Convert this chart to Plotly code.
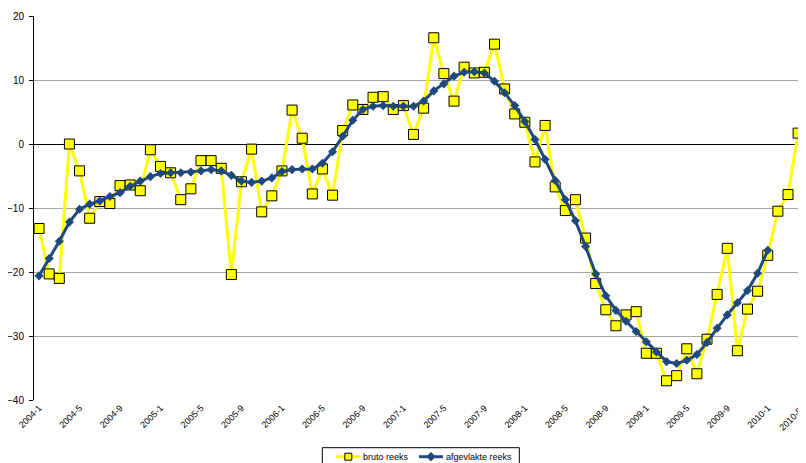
import plotly.graph_objects as go

months = [f"{y}-{m}" for y in range(2004, 2011) for m in range(1, 13)][:77]

bruto = [-13.2, -20.3, -21.0, 0.0, -4.2, -11.6, -9.0, -9.3, -6.5, -6.4, -7.3, -0.9,
         -3.5, -4.5, -8.7, -7.0, -2.6, -2.6, -3.8, -20.4, -5.9, -0.8, -10.6, -8.1,
         -4.2, 5.3, 0.9, -7.8, -3.9, -8.0, 2.1, 6.1, 5.4, 7.3, 7.4, 5.4,
         6.0, 1.5, 5.6, 16.6, 11.0, 6.7, 12.0, 11.1, 11.2, 15.6, 8.6, 4.7,
         3.4, -2.8, 2.9, -6.7, -10.4, -8.7, -14.7, -21.8, -25.9, -28.4, -26.7, -26.2,
         -32.7, -32.7, -37.0, -36.2, -32.0, -35.9, -30.5, -23.5, -16.3, -32.3, -25.8, -23.0,
         -17.4, -10.5, -7.9, 1.7, 4.6]

afgevlakt = [-20.6, -17.9, -15.2, -12.2, -10.2, -9.4, -8.9, -8.2, -7.6, -6.6, -5.8, -5.1,
             -4.6, -4.5, -4.5, -4.4, -4.2, -4.0, -4.2, -4.9, -5.8, -6.0, -5.8, -5.3,
             -4.3, -4.0, -3.9, -3.9, -3.0, -1.2, 1.2, 3.7, 5.4, 5.9, 6.0, 5.9,
             5.9, 5.9, 6.7, 8.3, 9.4, 10.6, 11.2, 11.3, 11.1, 9.8, 8.0, 6.0,
             3.5, 0.7, -2.4, -5.7, -8.7, -12.0, -16.0, -20.3, -23.7, -26.0, -27.7, -29.3,
             -30.9, -32.5, -34.0, -34.3, -33.8, -32.9, -31.0, -28.8, -26.7, -24.8, -22.9, -20.2,
             -16.6]

series_names = ["bruto reeks", "afgevlakte reeks"]
YELLOW = "#FFFF00"
BLUE = "#1F497D"

tick_idx = list(range(0, 77, 4))
tick_text = [months[i] for i in tick_idx]

fig = go.Figure()
fig.add_trace(go.Scatter(
    x=list(range(len(bruto))), y=bruto, mode="lines+markers", name=series_names[0],
    line=dict(color=YELLOW, width=3), cliponaxis=False,
    marker=dict(symbol="square", size=10, color=YELLOW, line=dict(color="#000000", width=1)),
))
fig.add_trace(go.Scatter(
    x=list(range(len(afgevlakt))), y=afgevlakt, mode="lines+markers", name=series_names[1],
    line=dict(color=BLUE, width=3),
    marker=dict(symbol="diamond", size=7, color=BLUE),
))

# page body has an 8px default margin, so the figure is sized to fill the rest of the window
W, H = 798, 455
ML, MR, MT, MB = 26, 0, 8, 63
PW, PH = W - ML - MR, H - MT - MB
X_RANGE = [-0.5, 75.78]


def px(x_page):
    return (x_page - 8 - ML) / PW


def py(y_page):
    return (H - MB - (y_page - 8)) / PH


def xdata_to_paper(v):
    return (v - X_RANGE[0]) / (X_RANGE[1] - X_RANGE[0])


# custom legend box (cut off at the bottom like the reference)
ly = py(456.7)
shapes = [
    dict(type="rect", xref="paper", yref="paper", x0=px(322.3), x1=px(519.3),
         y0=py(447.7), y1=py(480), line=dict(color="#000000", width=1), fillcolor="white",
         layer="above"),
    dict(type="line", xref="paper", yref="paper", x0=px(336), x1=px(360), y0=ly, y1=ly,
         line=dict(color=YELLOW, width=3), layer="above"),
    dict(type="rect", xref="paper", yref="paper", xsizemode="pixel", ysizemode="pixel",
         xanchor=px(348.3), yanchor=ly, x0=-3.5, x1=3.5, y0=-3.5, y1=3.5,
         line=dict(color="#000000", width=1), fillcolor=YELLOW, layer="above"),
    dict(type="line", xref="paper", yref="paper", x0=px(419), x1=px(443), y0=ly, y1=ly,
         line=dict(color=BLUE, width=3), layer="above"),
    dict(type="path", xref="paper", yref="paper", xsizemode="pixel", ysizemode="pixel",
         xanchor=px(431), yanchor=ly, path="M -4.5,0 L 0,4.5 L 4.5,0 L 0,-4.5 Z",
         line=dict(color=BLUE, width=0.5), fillcolor=BLUE, layer="above"),
]
annotations = [
    dict(xref="paper", yref="paper", x=px(361), y=ly, xanchor="left", yanchor="middle",
         text=series_names[0], showarrow=False, font=dict(size=9, color="#000000")),
    dict(xref="paper", yref="paper", x=px(443.5), y=ly, xanchor="left", yanchor="middle",
         text=series_names[1], showarrow=False, font=dict(size=9, color="#000000")),
    # last category label, cut off by the window edge as in the reference
    dict(xref="paper", yref="paper", x=xdata_to_paper(76) - 0.001, y=py(403),
         xanchor="right", yanchor="top", textangle=-45, text=months[76], showarrow=False,
         font=dict(size=9, color="#000000")),
]

fig.update_layout(
    width=W, height=H,
    margin=dict(l=ML, r=MR, t=MT, b=MB),
    paper_bgcolor="white", plot_bgcolor="white",
    font=dict(family="Liberation Sans, Arial, sans-serif", color="#000000"),
    showlegend=False,
    shapes=shapes,
    annotations=annotations,
)
fig.update_xaxes(range=X_RANGE, tickmode="array", tickvals=tick_idx, ticktext=tick_text,
                 tickangle=-45, tickfont=dict(size=9), showgrid=False, zeroline=False,
                 showline=False, automargin=False)
fig.update_yaxes(range=[-40, 20], dtick=10, showgrid=True, gridcolor="#A6A6A6", gridwidth=1,
                 zeroline=True, zerolinecolor="#000000", zerolinewidth=1,
                 showline=True, linecolor="#000000", linewidth=1, automargin=False,
                 ticks="outside", ticklen=4, tickcolor="#000000", tickfont=dict(size=10),
                 ticklabelstandoff=3)

fig.write_html("out.html")
